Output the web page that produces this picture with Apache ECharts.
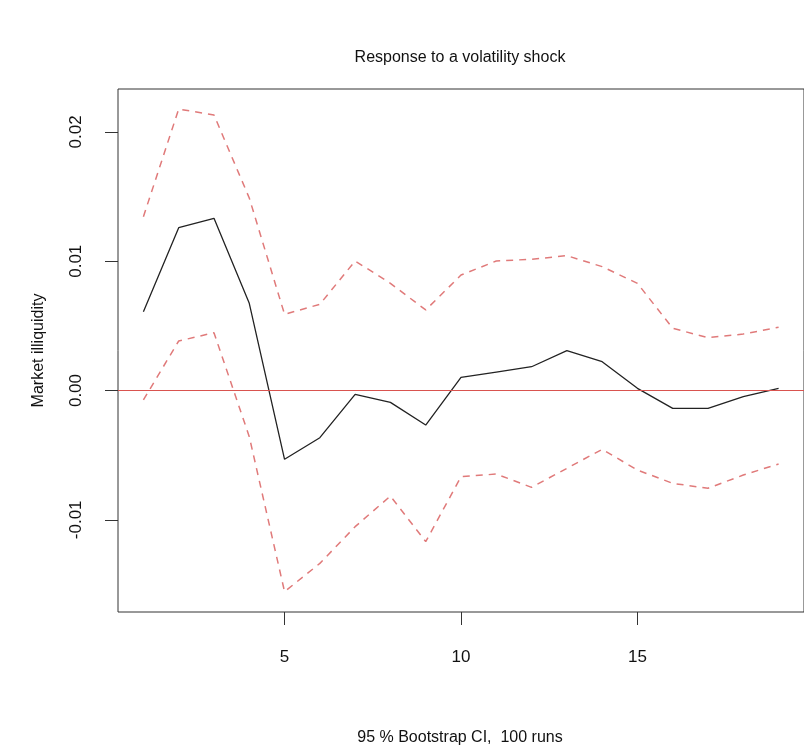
<!DOCTYPE html>
<html>
<head>
<meta charset="utf-8">
<script src="https://cdn.jsdelivr.net/npm/echarts@6/dist/echarts.min.js"></script>
<style>html,body{margin:0;padding:0;background:#fff;}#c{width:804px;height:750px;}</style>
</head>
<body>
<div id="c"></div>
<script>
const steps = [1,2,3,4,5,6,7,8,9,10,11,12,13,14,15,16,17,18,19];
const response = [0.00609,0.01259,0.01332,0.00674,-0.00532,-0.00365,-0.00030,-0.00092,-0.00267,0.00102,0.00143,0.00184,0.00308,0.00223,0.00017,-0.00138,-0.00138,-0.00048,0.00017];
const upperCI = [0.01344,0.02177,0.02131,0.01489,0.00589,0.00667,0.01002,0.00829,0.00623,0.00893,0.01002,0.01015,0.01043,0.00958,0.00829,0.00481,0.00409,0.00437,0.00489];
const lowerCI = [-0.00073,0.00383,0.00447,-0.00357,-0.01556,-0.01337,-0.01053,-0.00816,-0.01169,-0.00667,-0.00646,-0.00749,-0.00602,-0.00455,-0.00615,-0.00718,-0.00756,-0.00654,-0.00568];
const xTicks = [5,10,15];
const yTicks = [-0.01,0,0.01,0.02];

const pairs = (ys) => steps.map((x,i)=>[x,ys[i]]);
const font = 'Liberation Sans, Arial, sans-serif';
const chart = echarts.init(document.getElementById('c'), null, {renderer:'canvas'});
chart.setOption({
  animation:false,
  backgroundColor:'#fff',
  title:[
    {text:'Response to a volatility shock', left:455, top:45, textAlign:'center',
     textStyle:{fontFamily:font,fontSize:16,fontWeight:'normal',color:'#111'}},
    {text:'95 % Bootstrap CI,  100 runs', left:455, top:725, textAlign:'center',
     textStyle:{fontFamily:font,fontSize:16,fontWeight:'normal',color:'#111'}}
  ],
  grid:{left:118, top:89, width:696, height:523, show:true, borderColor:'#333', borderWidth:1, backgroundColor:'transparent'},
  xAxis:{type:'value', min:0.28, max:19.72,
    axisLine:{show:false, onZero:false}, splitLine:{show:false},
    axisTick:{show:true, inside:false, length:13, customValues:xTicks, lineStyle:{color:'#333'}},
    axisLabel:{customValues:xTicks, margin:37, fontFamily:font, fontSize:17, color:'#111'}},
  yAxis:{type:'value', min:-0.01713, max:0.02332,
    name:'Market illiquidity', nameLocation:'middle', nameRotate:90, nameGap:71,
    nameTextStyle:{fontFamily:font,fontSize:16,color:'#111'},
    axisLine:{show:false, onZero:false}, splitLine:{show:false},
    axisTick:{show:true, inside:false, length:13, customValues:yTicks, lineStyle:{color:'#333'}},
    axisLabel:{customValues:yTicks, rotate:90, margin:33, fontFamily:font, fontSize:17, color:'#111',
      formatter:(v)=>v.toFixed(2)}},
  series:[
    {type:'line', data:pairs(upperCI), symbol:'none', lineStyle:{color:'#e07a7a', width:1.5, type:[7,6]}},
    {type:'line', data:pairs(lowerCI), symbol:'none', lineStyle:{color:'#e07a7a', width:1.5, type:[7,6]}},
    {type:'line', data:pairs(response), symbol:'none', lineStyle:{color:'#222', width:1.3},
      markLine:{silent:true, symbol:'none', label:{show:false}, lineStyle:{color:'#d9534f', type:'solid', width:1.2},
        data:[{yAxis:0}]}}
  ]
});
</script>
</body>
</html>
